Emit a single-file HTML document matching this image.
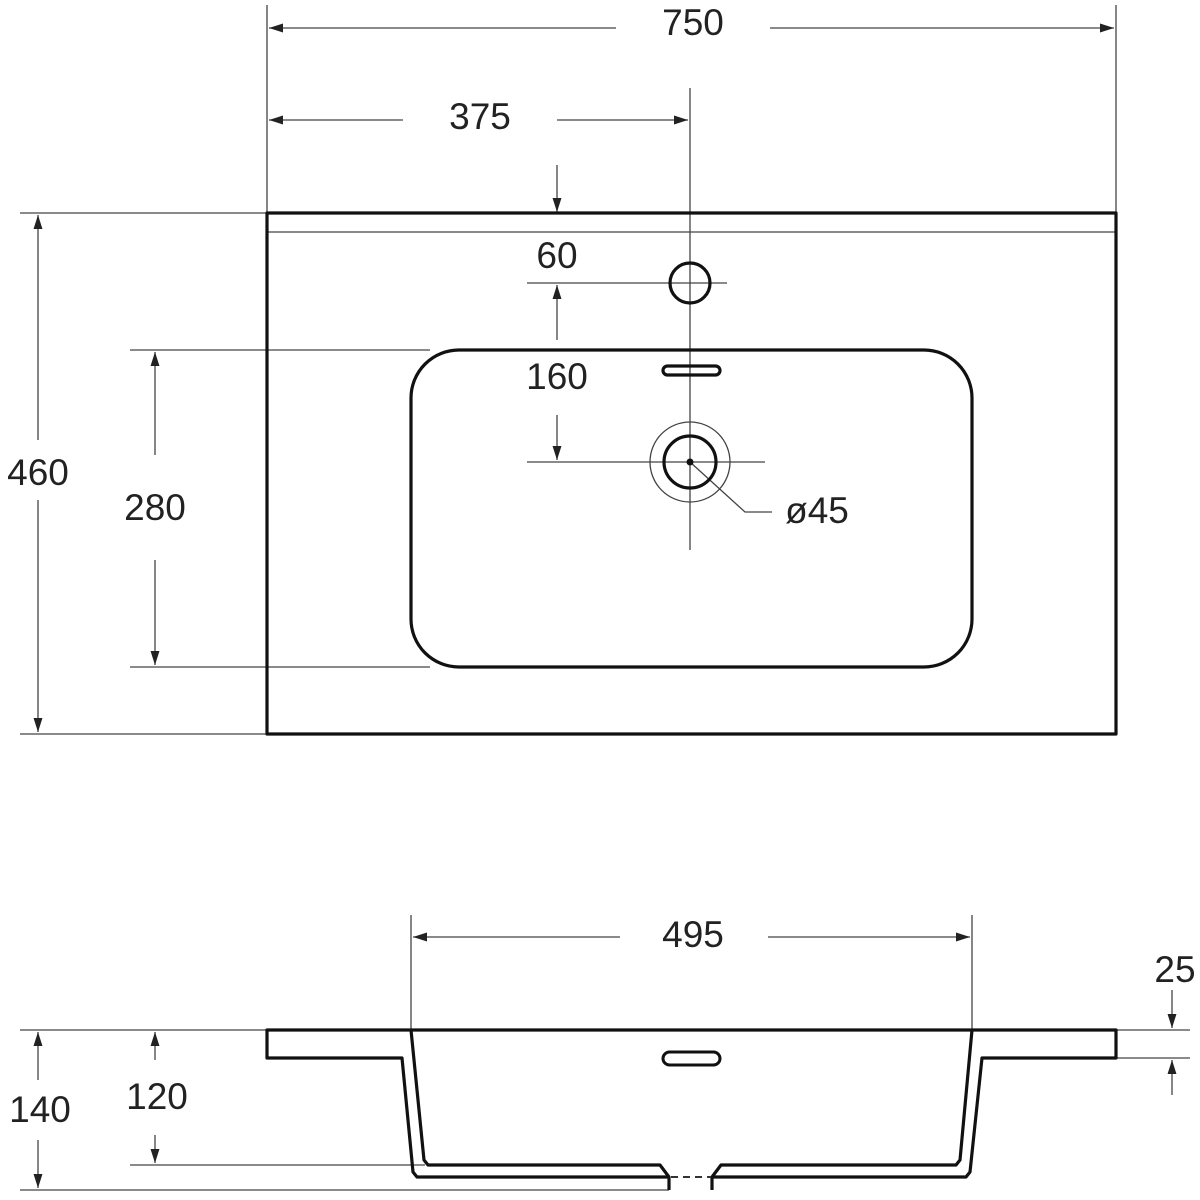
<!DOCTYPE html>
<html><head><meta charset="utf-8"><style>html,body{margin:0;padding:0;background:#fff}svg{display:block}text{font-family:"Liberation Sans",sans-serif;font-size:37px;fill:#222;text-anchor:middle}</style></head>
<body>
<svg width="1200" height="1200" viewBox="0 0 1200 1200" xmlns="http://www.w3.org/2000/svg">
<defs>
<marker id="a" viewBox="0 0 10 10" refX="10" refY="5" markerWidth="16" markerHeight="14" markerUnits="userSpaceOnUse" orient="auto"><path d="M0,1.8 L10,5 L0,8.2z" fill="#222"/></marker>
</defs>
<g stroke="#444" stroke-width="1.3" fill="none">
<line x1="267" y1="5" x2="267" y2="213"/><line x1="1116" y1="5" x2="1116" y2="213"/>
<line x1="690" y1="88" x2="690" y2="550"/>
<line x1="20" y1="213" x2="267" y2="213"/><line x1="20" y1="734" x2="267" y2="734"/>
<line x1="130" y1="350" x2="430" y2="350"/><line x1="130" y1="667" x2="430" y2="667"/>
<line x1="527" y1="283" x2="727" y2="283"/><line x1="527" y1="462" x2="765" y2="462"/>
<line x1="268" y1="232" x2="1115" y2="232"/>
<line x1="411" y1="915" x2="411" y2="1030"/><line x1="972" y1="915" x2="972" y2="1030"/>
<line x1="20" y1="1030" x2="267" y2="1030"/><line x1="1116" y1="1030" x2="1190" y2="1030"/><line x1="1116" y1="1058" x2="1190" y2="1058"/>
<line x1="20" y1="1190" x2="669" y2="1190"/><line x1="130" y1="1165" x2="425" y2="1165"/>
<polyline points="690,462 745,512 772,512"/>
<line x1="616" y1="28" x2="269" y2="28" marker-end="url(#a)"/><line x1="770" y1="28" x2="1114" y2="28" marker-end="url(#a)"/>
<line x1="403" y1="120" x2="269" y2="120" marker-end="url(#a)"/><line x1="557" y1="120" x2="688" y2="120" marker-end="url(#a)"/>
<line x1="557" y1="165" x2="557" y2="212" marker-end="url(#a)"/>
<line x1="557" y1="340" x2="557" y2="285" marker-end="url(#a)"/>
<line x1="557" y1="415" x2="557" y2="460" marker-end="url(#a)"/>
<line x1="38" y1="440" x2="38" y2="215" marker-end="url(#a)"/><line x1="38" y1="500" x2="38" y2="732" marker-end="url(#a)"/>
<line x1="155" y1="455" x2="155" y2="352" marker-end="url(#a)"/><line x1="155" y1="560" x2="155" y2="665" marker-end="url(#a)"/>
<line x1="620" y1="937" x2="413" y2="937" marker-end="url(#a)"/><line x1="768" y1="937" x2="970" y2="937" marker-end="url(#a)"/>
<line x1="1172" y1="990" x2="1172" y2="1028" marker-end="url(#a)"/><line x1="1172" y1="1095" x2="1172" y2="1060" marker-end="url(#a)"/>
<line x1="38" y1="1080" x2="38" y2="1032" marker-end="url(#a)"/><line x1="38" y1="1140" x2="38" y2="1188" marker-end="url(#a)"/>
<line x1="155" y1="1060" x2="155" y2="1032" marker-end="url(#a)"/><line x1="155" y1="1135" x2="155" y2="1163" marker-end="url(#a)"/>
<circle cx="690" cy="462" r="40"/>
</g>
<g stroke="#111" stroke-width="3.2" fill="none" stroke-linejoin="round">
<rect x="267" y="213" width="849" height="521"/>
<rect x="411" y="350" width="561" height="317" rx="48"/>
<circle cx="690" cy="283" r="20"/>
<circle cx="690" cy="462" r="26"/>
<rect x="663" y="366" width="57" height="9" rx="4.5"/>
<polyline points="411,1030 267,1030 267,1058 402,1058 413,1172 417,1177 669,1177"/>
<polyline points="411,1030 972,1030 1116,1030 1116,1058 982,1058 970,1172 966,1177 712,1177"/>
<polyline points="411,1030 424,1160 428,1165 660,1165 669,1177 669,1190"/>
<polyline points="972,1030 960,1160 956,1165 721,1165 712,1177 712,1190"/>
<rect x="663" y="1052" width="57" height="13" rx="6.5" stroke-width="3"/>
</g>
<line x1="671" y1="1177" x2="711" y2="1177" stroke="#333" stroke-width="2" stroke-dasharray="7,5"/>
<circle cx="690" cy="462" r="3.5" fill="#111"/>
<text x="693" y="35">750</text>
<text x="480" y="129">375</text>
<text x="557" y="268">60</text>
<text x="557" y="389">160</text>
<text x="817" y="523">ø45</text>
<text x="38" y="485">460</text>
<text x="155" y="520">280</text>
<text x="693" y="947">495</text>
<text x="1175" y="982">25</text>
<text x="40" y="1122">140</text>
<text x="157" y="1109">120</text>
</svg>
</body></html>
